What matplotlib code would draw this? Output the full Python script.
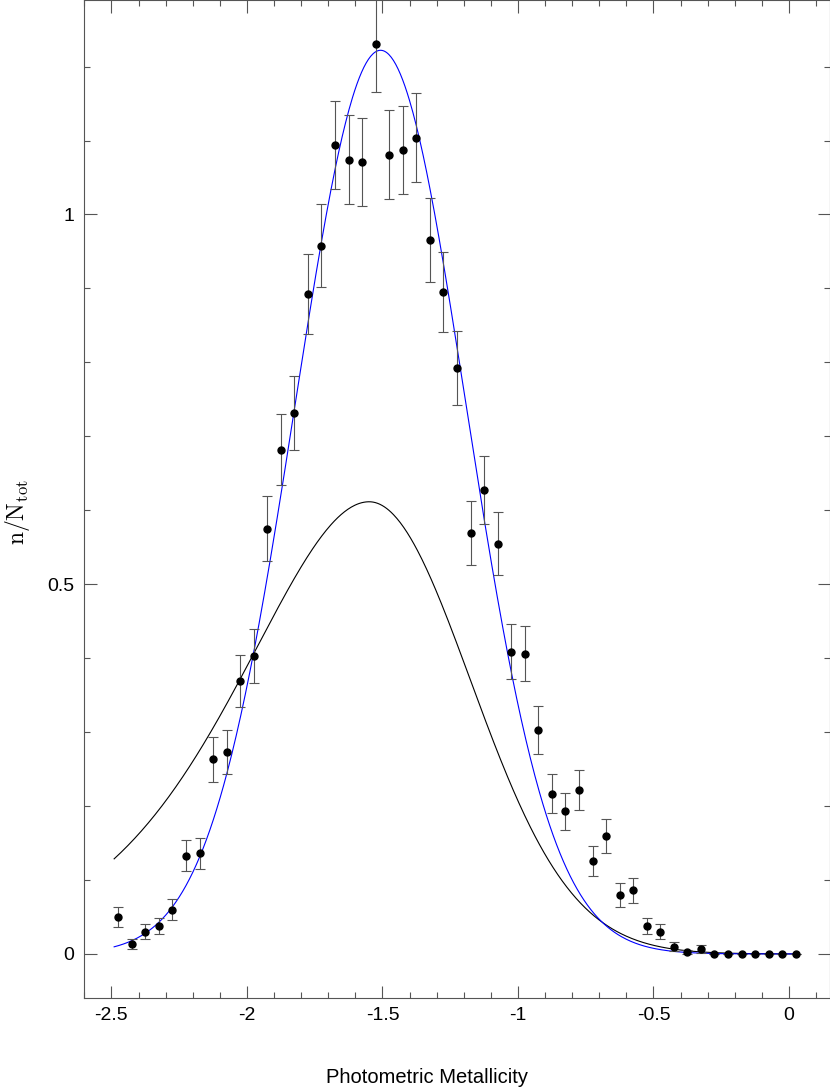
import matplotlib
matplotlib.use("Agg")
import matplotlib.pyplot as plt
import numpy as np
from matplotlib.ticker import FormatStrFormatter, MultipleLocator

plt.rcParams["font.family"] = ["Liberation Sans", "DejaVu Sans"]
plt.rcParams["mathtext.fontset"] = "cm"
plt.rcParams["axes.unicode_minus"] = False

# ----- Data ----------------------------------------------------------------

# bin centres, [Fe/H] step 0.05
feh = [
    -2.475, -2.425, -2.375, -2.325, -2.275, -2.225, -2.175, -2.125, -2.075,
    -2.025, -1.975, -1.925, -1.875, -1.825, -1.775, -1.725, -1.675, -1.625,
    -1.575, -1.525, -1.475, -1.425, -1.375, -1.325, -1.275, -1.225, -1.175,
    -1.125, -1.075, -1.025, -0.975, -0.925, -0.875, -0.825, -0.775, -0.725,
    -0.675, -0.625, -0.575, -0.525, -0.475, -0.425, -0.375, -0.325, -0.275,
    -0.225, -0.175, -0.125, -0.075, -0.025, 0.025,
]
frac = [
    0.050, 0.0136, 0.030, 0.0375, 0.060, 0.133, 0.136, 0.263, 0.273,
    0.369, 0.403, 0.575, 0.682, 0.732, 0.892, 0.958, 1.094, 1.074,
    1.071, 1.230, 1.081, 1.087, 1.104, 0.965, 0.895, 0.792, 0.569,
    0.628, 0.555, 0.409, 0.406, 0.303, 0.217, 0.193, 0.222, 0.126,
    0.159, 0.080, 0.086, 0.0375, 0.030, 0.010, 0.003, 0.0068, 0.0,
    0.0, 0.0, 0.0, 0.0, 0.0, 0.0,
]
frac_err = [
    0.013, 0.0068, 0.010, 0.011, 0.014, 0.021, 0.021, 0.030, 0.030,
    0.035, 0.037, 0.044, 0.048, 0.050, 0.054, 0.056, 0.060, 0.060,
    0.060, 0.064, 0.060, 0.060, 0.060, 0.057, 0.054, 0.050, 0.043,
    0.046, 0.043, 0.037, 0.037, 0.032, 0.027, 0.025, 0.027, 0.020,
    0.023, 0.016, 0.017, 0.011, 0.010, 0.006, 0.003, 0.005, 0.0,
    0.0, 0.0, 0.0, 0.0, 0.0, 0.0,
]

# blue: gaussian fit to the histogram
fit_mu, fit_sigma, fit_amp = -1.507, 0.316, 1.222
# black: model MDF, skewed (broader metal-poor tail)
mdf_peak, mdf_amp = -1.549, 0.6115
mdf_sig_left, mdf_sig_grow, mdf_sig_right = 0.42, 0.12, 0.373
curve_range = (-2.49, 0.03)


def gauss(x, mu, sig, amp):
    return amp * np.exp(-0.5 * ((x - mu) / sig) ** 2)


def skewed_mdf(x):
    d = x - mdf_peak
    sig = np.where(d < 0, mdf_sig_left + mdf_sig_grow * np.abs(d), mdf_sig_right)
    return mdf_amp * np.exp(-0.5 * (d / sig) ** 2)


# ----- Plot ----------------------------------------------------------------

fig = plt.figure(figsize=(8.30, 10.88), dpi=100)
ax = fig.add_axes([0.1016, 0.0824, 0.898, 0.9176])

xs = np.linspace(curve_range[0], curve_range[1], 600)
ax.plot(xs, skewed_mdf(xs), color="black", lw=0.8)
ax.plot(xs, gauss(xs, fit_mu, fit_sigma, fit_amp), color="#0000ff", lw=0.8)

ax.errorbar(
    feh, frac, yerr=frac_err, fmt="o", color="black", ms=5,
    ecolor="#555555", elinewidth=0.8, capsize=3.4, capthick=0.8,
)

ax.set_xlim(-2.6, 0.15)
ax.set_ylim(-0.06, 1.29)

ax.xaxis.set_major_locator(MultipleLocator(0.5))
ax.xaxis.set_minor_locator(MultipleLocator(0.1))
ax.yaxis.set_major_locator(MultipleLocator(0.5))
ax.yaxis.set_minor_locator(MultipleLocator(0.1))
ax.xaxis.set_major_formatter(FormatStrFormatter("%g"))
ax.yaxis.set_major_formatter(FormatStrFormatter("%g"))

ax.tick_params(which="both", direction="in", top=True, right=True,
               color="#555555", width=0.8, labelsize=14)
ax.tick_params(which="major", length=9)
ax.tick_params(which="minor", length=4.5)
ax.tick_params(axis="x", pad=6)
ax.tick_params(axis="y", pad=7)
for sp in ax.spines.values():
    sp.set_color("#555555")
    sp.set_linewidth(0.8)

ax.set_xlabel("Photometric Metallicity", fontsize=14.5, va="center")
ax.xaxis.set_label_coords(0.46, -0.0788)
ax.set_ylabel(r"$\mathrm{n/N_{tot}}$", fontsize=17, va="center")
ax.yaxis.set_label_coords(-0.089, 0.487)

fig.savefig("out.png", dpi=100)
